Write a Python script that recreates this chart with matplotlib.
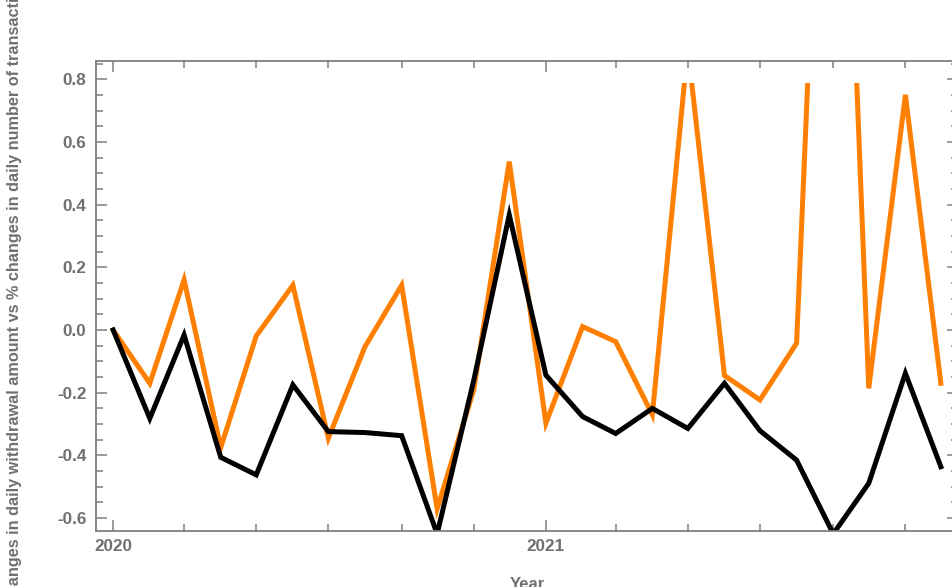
import datetime as dt
import matplotlib
matplotlib.use("Agg")
import matplotlib.pyplot as plt
import matplotlib.dates as mdates
from matplotlib.patches import Rectangle
from matplotlib.ticker import MultipleLocator

# monthly points, Jan 2020 .. Dec 2021
months = [dt.datetime(2020 + i // 12, i % 12 + 1, 1) for i in range(24)]

pct_amount = [0.0, -0.17, 0.16, -0.375, -0.019, 0.143, -0.345, -0.053, 0.143, -0.57,
              -0.19, 0.537, -0.297, 0.011, -0.037, -0.27, 0.9, -0.145, -0.223, -0.042,
              2.7, -0.186, 0.75, -0.17]
pct_count = [0.0, -0.282, -0.016, -0.406, -0.462, -0.175, -0.324, -0.327, -0.337, -0.65,
             -0.16, 0.367, -0.144, -0.276, -0.33, -0.25, -0.314, -0.17, -0.321, -0.415,
             -0.65, -0.489, -0.138, -0.436]

grey = "#7f7f7f"
txt = "#707070"
plt.rcParams['font.family'] = ['Liberation Sans', 'DejaVu Sans']

fig = plt.figure(figsize=(9.53, 5.87), dpi=100)
ax = fig.add_axes([96 / 953, 56 / 587, 862 / 953, 470 / 587])

l1, = ax.plot(months, pct_amount, color="#ff8000", lw=3.6, solid_joinstyle="miter")
l2, = ax.plot(months, pct_count, color="black", lw=3.6, solid_joinstyle="miter")

x0 = mdates.date2num(dt.datetime(2019, 12, 17, 12))
x1 = mdates.date2num(dt.datetime(2021, 12, 15, 12))
y0, y1 = -0.641, 0.858
ax.set_xlim(x0, x1)
ax.set_ylim(y0, y1)

# plot range clip (frame has padding above)
clip = Rectangle((x0, y0), x1 - x0, 0.787 - y0, transform=ax.transData)
l1.set_clip_path(clip)
l2.set_clip_path(clip)

ax.xaxis.set_major_locator(mdates.YearLocator())
ax.xaxis.set_major_formatter(mdates.DateFormatter("%Y"))
ax.xaxis.set_minor_locator(mdates.MonthLocator(bymonth=[3, 5, 7, 9, 11]))
ax.yaxis.set_major_locator(MultipleLocator(0.2))
ax.yaxis.set_minor_locator(MultipleLocator(0.05))
ax.yaxis.set_major_formatter(lambda v, p: f"{v:.1f}".replace("-0.0", "0.0"))

for s in ax.spines.values():
    s.set_color(grey)
    s.set_linewidth(1.3)
ax.tick_params(which="both", direction="in", top=True, right=True, color=grey, width=1.1,
               labelcolor=txt, labelsize=12.3)
ax.tick_params(which="major", length=7.8)
ax.tick_params(which="minor", length=5)
ax.tick_params(axis="y", pad=7)
ax.tick_params(axis="x", pad=6)
for lab in ax.get_xticklabels() + ax.get_yticklabels():
    lab.set_fontweight("bold")

ax.set_xlabel("Year", fontsize=12, fontweight="bold", color=txt, labelpad=16)
ax.set_ylabel("% changes in daily withdrawal amount vs % changes in daily number of transactions",
              fontsize=11.7, fontweight="bold", color=txt, labelpad=25)

fig.savefig("out.png", dpi=100)
